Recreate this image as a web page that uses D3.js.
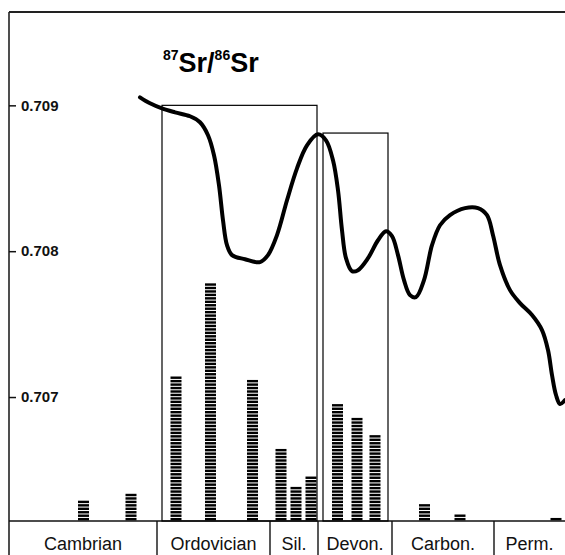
<!DOCTYPE html>
<html>
<head>
<meta charset="utf-8">
<script src="https://cdn.jsdelivr.net/npm/d3@7"></script>
<style>
  body { margin: 0; background: #fff; }
  svg { display: block; font-family: "Liberation Sans", Arial, sans-serif; }
</style>
</head>
<body>
<div id="chart"></div>
<script>
// relative time position (0 = base of Cambrian) and 87Sr/86Sr
var curveX = [131, 141, 153, 166, 181, 191, 199, 205, 210, 214, 218, 223, 236, 251, 259, 268, 278, 288, 298, 309,
  317, 324, 329, 333, 337, 343, 349, 359, 369, 377, 383, 389, 395, 401, 407, 415, 423, 431, 441, 456,
  469, 478, 484, 491, 501, 511, 523, 533, 539, 543, 547, 551, 556];
var curveY = [0.709055, 0.709014, 0.708979, 0.708952, 0.708925, 0.708884, 0.708795, 0.708658, 0.708452, 0.708212,
  0.708041, 0.707973, 0.707945, 0.707925, 0.707973, 0.708110, 0.708349, 0.708568, 0.708726, 0.708801,
  0.708760, 0.708623, 0.708418, 0.708144, 0.707952, 0.707863, 0.707870, 0.707952, 0.708075, 0.708137,
  0.708103, 0.707973, 0.707801, 0.707699, 0.707685, 0.707801, 0.708041, 0.708178, 0.708247, 0.708295,
  0.708295, 0.708247, 0.708110, 0.707904, 0.707733, 0.707644, 0.707562, 0.707459, 0.707322, 0.707151,
  0.707014, 0.706952, 0.706979];

var periods = ["Cambrian", "Ordovician", "Sil.", "Devon.", "Carbon.", "Perm."];
var periodBounds = [0, 148, 261, 309, 383, 485, 556];

var yTicks = [0.707, 0.708, 0.709];

// frequency columns (number of dashes)
var barX = [74.5, 122, 167, 201.5, 243.5, 272, 287, 302, 328.5, 348, 366, 415.5, 451, 547];
var barCount = [6, 8, 42, 69, 41, 21, 10, 13, 34, 30, 25, 5, 2, 1];

// boxes: start, end, top value
var boxStart = [153, 314];
var boxEnd = [308, 379];
var boxTop = [0.709, 0.70881];

const width = 565, height = 555;
var mLeft = 9, mTop = 12, base = 521;

var x = d3.scaleLinear().domain([0, 556]).range([mLeft, width]);
var y = d3.scaleLinear().domain([0.70615, 0.70964]).range([base, mTop]);
var yCount = d3.scaleLinear().domain([0, 70]).range([base, base - 70 * 3.45]);

var svg = d3.select("#chart").append("svg")
    .attr("width", width)
    .attr("height", height);

// frame
svg.append("line").attr("x1", mLeft).attr("x2", width).attr("y1", mTop).attr("y2", mTop)
    .attr("stroke", "#222").attr("stroke-width", 2);
svg.append("line").attr("x1", mLeft).attr("x2", mLeft).attr("y1", mTop).attr("y2", height)
    .attr("stroke", "#222").attr("stroke-width", 1.6);
svg.append("line").attr("x1", mLeft).attr("x2", width).attr("y1", base).attr("y2", base)
    .attr("stroke", "#111").attr("stroke-width", 1.6);

// y ticks
var yAxis = d3.axisRight(y).tickValues(yTicks).tickSize(7).tickPadding(5).tickFormat(d3.format(".3f"));
var ya = svg.append("g")
    .attr("transform", "translate(" + mLeft + ",0)")
    .call(yAxis);
ya.select(".domain").remove();
ya.selectAll("line").attr("stroke", "#111").attr("stroke-width", 1.5);
ya.selectAll("text")
    .attr("font-size", "15px")
    .attr("font-weight", "bold")
    .attr("fill", "#111")
    .attr("font-family", "Liberation Sans, Arial, sans-serif");

// period dividers and labels
var inner = periodBounds.slice(1, periodBounds.length - 1);
svg.selectAll(".div").data(inner).enter().append("line")
    .attr("x1", function(d) { return x(d); })
    .attr("x2", function(d) { return x(d); })
    .attr("y1", base)
    .attr("y2", height)
    .attr("stroke", "#111")
    .attr("stroke-width", 1.4);

svg.selectAll(".period").data(periods).enter().append("text")
    .attr("x", function(d, i) { return x((periodBounds[i] + periodBounds[i + 1]) / 2); })
    .attr("y", 550)
    .attr("text-anchor", "middle")
    .attr("font-size", "18px")
    .attr("fill", "#111")
    .text(function(d) { return d; });

// boxes
svg.selectAll(".box").data(boxStart).enter().append("rect")
    .attr("x", function(d) { return x(d); })
    .attr("y", function(d, i) { return y(boxTop[i]); })
    .attr("width", function(d, i) { return x(boxEnd[i]) - x(d); })
    .attr("height", function(d, i) { return base - y(boxTop[i]); })
    .attr("fill", "none")
    .attr("stroke", "#000")
    .attr("stroke-width", 1.2);

// dashed columns
var barW = 11;
barX.forEach(function(bx, i) {
  var stripes = d3.range(barCount[i]);
  svg.append("g").selectAll("rect").data(stripes).enter().append("rect")
      .attr("x", x(bx) - barW / 2)
      .attr("y", function(d) { return yCount(d + 1) + 0.4; })
      .attr("width", barW)
      .attr("height", (yCount(0) - yCount(1)) * 0.7)
      .attr("fill", "#000");
});

// Sr curve
var pts = curveX.map(function(d, i) { return [d, curveY[i]]; });
var line = d3.line()
    .x(function(d) { return x(d[0]); })
    .y(function(d) { return y(d[1]); })
    .curve(d3.curveCatmullRom.alpha(0.5));

svg.append("path")
    .attr("d", line(pts))
    .attr("fill", "none")
    .attr("stroke", "#000")
    .attr("stroke-width", 4)
    .attr("stroke-linecap", "round");

// title
var title = svg.append("text")
    .attr("x", 163)
    .attr("y", 72)
    .attr("font-weight", "bold")
    .attr("fill", "#000");
title.append("tspan").attr("font-size", "14px").attr("dy", -12).text("87");
title.append("tspan").attr("font-size", "27px").attr("dy", 12).text("Sr/");
title.append("tspan").attr("font-size", "14px").attr("dy", -12).text("86");
title.append("tspan").attr("font-size", "27px").attr("dy", 12).text("Sr");
</script>
</body>
</html>
